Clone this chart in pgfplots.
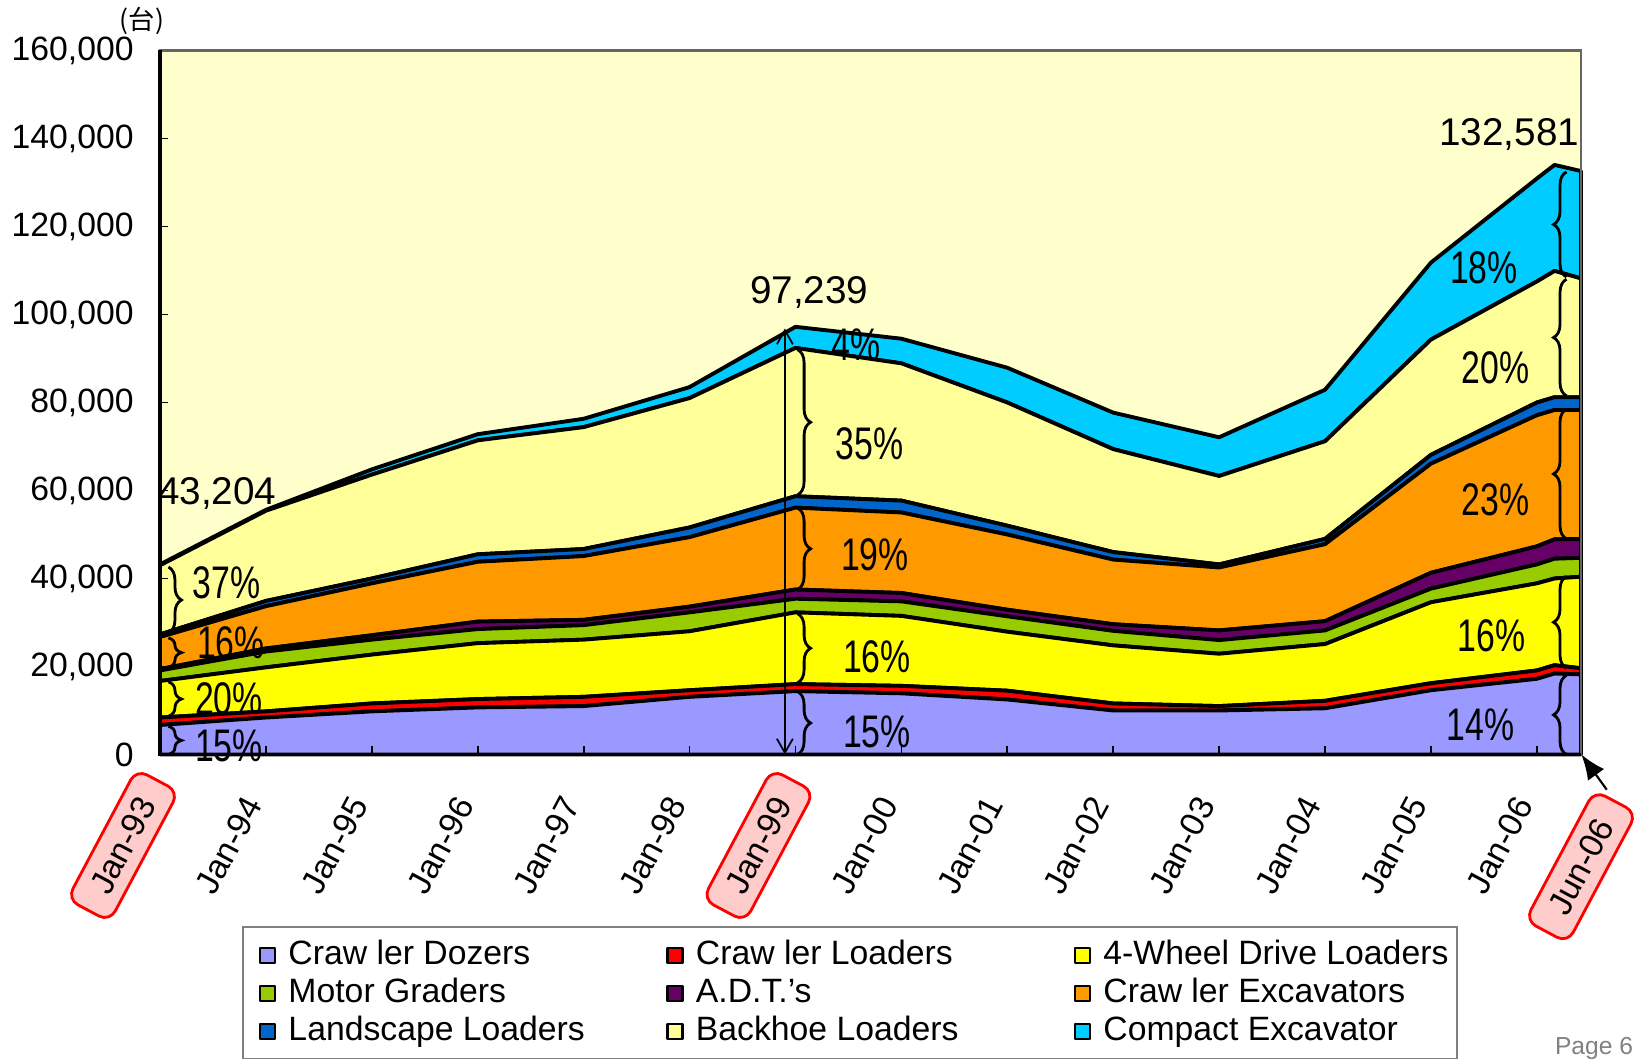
\documentclass[border=0pt]{standalone}
\usepackage{fontspec}
\setmainfont{Liberation Sans}
\newfontfamily\cjk{Noto Sans CJK JP}
\usepackage{pgfplots}
\pgfplotsset{compat=1.18}
\usetikzlibrary{decorations.pathreplacing, arrows.meta}
\definecolor{bgyel}{HTML}{FFFFCC}
\definecolor{cDz}{HTML}{9999FF}
\definecolor{cCL}{HTML}{FF0000}
\definecolor{cWD}{HTML}{FFFF00}
\definecolor{cMG}{HTML}{99CC00}
\definecolor{cADT}{HTML}{660066}
\definecolor{cEx}{HTML}{FF9900}
\definecolor{cLa}{HTML}{0066CC}
\definecolor{cBh}{HTML}{FFFF99}
\definecolor{cCo}{HTML}{00CCFF}
\definecolor{pinkbox}{HTML}{FFCCCC}
\begin{document}
\begin{tikzpicture}[x=1cm,y=1cm]
\useasboundingbox (0,0) rectangle (16.47,10.59);
\begin{axis}[
  at={(1.60cm,3.045cm)}, anchor=south west,
  scale only axis, width=14.21cm, height=7.04cm,
  xmin=0, xmax=13.4167, ymin=0, ymax=160000,
  stack plots=y,
  clip=false,
  axis on top,
  axis background/.style={fill=bgyel},
  axis line style={draw=gray!80!black, line width=0.8pt},
  tick align=inside, major tick length=0.08cm,
  tick style={black, line width=0.5pt},
  xtick pos=bottom, ytick pos=left,
  xtick={1,2,3,4,5,7,8,9,10,11,12,13},
  xticklabels={Jan-94,Jan-95,Jan-96,Jan-97,Jan-98,Jan-00,Jan-01,Jan-02,Jan-03,Jan-04,Jan-05,Jan-06},
  extra x ticks={0,6},
  extra x tick labels={Jan-93,Jan-99},
  extra x tick style={xticklabel style={draw=red, line width=0.8pt, fill=pinkbox, rounded corners=0.12cm, inner xsep=0.22cm, inner ysep=0.12cm}},
  tick label style={font=\fontsize{9.6}{11}\selectfont},
  xticklabel style={xshift=-0.37cm, yshift=-0.91cm, rotate=62, anchor=center},
  ytick={0,20000,...,160000},
  scaled y ticks=false,
  yticklabel style={/pgf/number format/fixed, /pgf/number format/1000 sep={,}, xshift=-0.14cm},
  /pgf/number format/assume math mode=true,
  legend columns=3,
  legend cell align=left,
  legend style={at={(0.0577,-0.244)}, anchor=north west, draw=gray, line width=0.6pt, fill=white,
    inner xsep=0.16cm, inner ysep=0.09cm, font=\fontsize{9.6}{11}\selectfont, row sep=0pt,
    nodes={inner sep=0.02cm, text height=0.26cm, text depth=0.08cm},
    /tikz/every odd column/.style={column sep=0.1cm},
    /tikz/every even column/.style={column sep=0.1cm}},
  legend image code/.code={\draw[#1, draw=black, line width=0.7pt] (0cm,-0.075cm) rectangle (0.15cm,0.075cm);},
  every axis plot/.append style={draw=black, line width=1.1pt, line join=round},
]
% Crawler Dozers
\addplot[fill=cDz] coordinates {(0,6700)(1,8400)(2,9800)(3,10700)(4,11000)(5,13100)(6,14400)(7,13900)(8,12500)(9,10000)(10,10000)(11,10500)(12,14600)(13,17200)(13.1667,18400)(13.4167,18200)} \closedcycle;
\addlegendentry{\makebox[3.66cm][l]{Craw ler Dozers}}
% Crawler Loaders
\addplot[fill=cCL] coordinates {(0,1700)(1,1400)(2,1800)(3,1900)(4,2100)(5,1500)(6,1600)(7,1700)(8,2000)(9,1600)(10,1000)(11,1700)(12,1600)(13,1900)(13.1667,1900)(13.4167,1400)} \closedcycle;
\addlegendentry{\makebox[3.66cm][l]{Craw ler Loaders}}
% 4WD Loaders
\addplot[fill=cWD] coordinates {(0,8300)(1,10000)(2,11100)(3,12700)(4,13000)(5,13400)(6,16300)(7,15900)(8,13400)(9,13200)(10,11900)(11,12900)(12,18400)(13,19800)(13.1667,19700)(13.4167,20800)} \closedcycle;
\addlegendentry{\makebox[3.36cm][l]{4-Wheel Drive Loaders}}
% Motor Graders
\addplot[fill=cMG] coordinates {(0,2400)(1,3600)(2,3400)(3,3200)(4,3300)(5,4300)(6,3100)(7,3300)(8,3500)(9,3300)(10,3100)(11,3100)(12,3100)(13,4300)(13.1667,4500)(13.4167,4300)} \closedcycle;
\addlegendentry{Motor Graders}
% ADT
\addplot[fill=cADT] coordinates {(0,300)(1,700)(2,1000)(3,1700)(4,1200)(5,1300)(6,2100)(7,1900)(8,1500)(9,1500)(10,2200)(11,2100)(12,3600)(13,4100)(13.1667,4400)(13.4167,4300)} \closedcycle;
\addlegendentry{A.D.T.'s}
% Crawler Excavators
\addplot[fill=cEx] coordinates {(0,7300)(1,9600)(2,11800)(3,13600)(4,14500)(5,15800)(6,18600)(7,18300)(8,17100)(9,14700)(10,14300)(11,17500)(12,24800)(13,29800)(13.1667,29400)(13.4167,29300)} \closedcycle;
\addlegendentry{Craw ler Excavators}
% Landscape Loaders
\addplot[fill=cLa] coordinates {(0,600)(1,1200)(2,1100)(3,1700)(4,1600)(5,2200)(6,2600)(7,2700)(8,2000)(9,1700)(10,700)(11,1200)(12,2000)(13,2900)(13.1667,2900)(13.4167,2900)} \closedcycle;
\addlegendentry{Landscape Loaders}
% Backhoe Loaders
\addplot[fill=cBh] coordinates {(0,15700)(1,20500)(2,23600)(3,25900)(4,27700)(5,29400)(6,33700)(7,31200)(8,28000)(9,23400)(10,20100)(11,22200)(12,26200)(13,27500)(13.1667,28700)(13.4167,27000)} \closedcycle;
\addlegendentry{Backhoe Loaders}
% Compact Excavator
\addplot[fill=cCo] coordinates {(0,200)(1,200)(2,1200)(3,1400)(4,1900)(5,2500)(6,4800)(7,5600)(8,7900)(9,8300)(10,8800)(11,11700)(12,17500)(13,23400)(13.1667,24100)(13.4167,24400)} \closedcycle;
\addlegendentry{Compact Excavator}
\end{axis}
% annotations in the axis frame: x in years from Jan-93, y in thousands
\begin{scope}[shift={(1.60cm,3.045cm)}, x=1.05913cm, y=0.044cm]
\draw[black, line width=1pt] (0,160) -- (0,0) -- (13.4167,0);
\begin{scope}[line width=0.8pt, decoration={brace, amplitude=0.13cm}]
\draw[decorate] (0.08,42.6) -- (0.08,27.6);
\draw[decorate] (0.08,26.5) -- (0.08,19.8);
\draw[decorate] (0.08,16.5) -- (0.08,8.7);
\draw[decorate] (0.08,6.4) -- (0.08,0);
\draw[decorate] (6.02,92.0) -- (6.02,59.0);
\draw[decorate] (6.02,56.0) -- (6.02,37.5);
\draw[decorate] (6.02,32.0) -- (6.02,16.3);
\draw[decorate] (6.02,14.3) -- (6.02,0);
\draw[decorate] (13.28,108.5) -- (13.28,132.4);
\draw[decorate] (13.28,81.5) -- (13.28,108.0);
\draw[decorate] (13.28,49.0) -- (13.28,78.5);
\draw[decorate] (13.28,19.6) -- (13.28,40.5);
\draw[decorate] (13.28,0) -- (13.28,18.0);
\end{scope}
\draw[line width=0.5pt, {Straight Barb[length=0.14cm,width=0.16cm]}-{Straight Barb[length=0.14cm,width=0.16cm]}] (5.9,0) -- (5.9,96.8);

\node[font=\fontsize{11}{13}\selectfont] at (0.54,59.3) {43,204};
\node[font=\fontsize{11}{13}\selectfont] at (6.13,105.1) {97,239};
\node[font=\fontsize{11}{13}\selectfont] at (12.74,140.9) {132,581};

\begin{scope}[every node/.style={font=\fontsize{13}{15}\selectfont, xscale=0.74}]
\node at (0.63,39.0) {37\%};
\node at (0.67,25.4) {16\%};
\node at (0.65,12.7) {20\%};
\node at (0.65,2.0) {15\%};
\node at (6.57,93.2) {4\%};
\node at (6.70,70.7) {35\%};
\node at (6.75,45.4) {19\%};
\node at (6.77,22.3) {16\%};
\node at (6.77,5.1) {15\%};
\node at (12.50,110.6) {18\%};
\node at (12.61,87.9) {20\%};
\node at (12.61,57.8) {23\%};
\node at (12.57,27.0) {16\%};
\node at (12.47,6.75) {14\%};
\end{scope}

\node[draw=red, line width=0.8pt, fill=pinkbox, rounded corners=0.12cm, inner xsep=0.22cm, inner ysep=0.12cm, rotate=62, font=\fontsize{9.6}{11}\selectfont] at (13.4167,-25.5) {Jun-06};
\draw[line width=0.6pt, -{Latex[length=0.25cm,width=0.2cm]}] (13.66,-8.0) -- (13.42,0);
\end{scope}
\node[font=\cjk\fontsize{7.5}{9}\selectfont] at (1.42,10.38) {(台)};
\node[font=\fontsize{7}{8}\selectfont, text=gray] at (15.94,0.11) {Page 6};
\end{tikzpicture}
\end{document}
